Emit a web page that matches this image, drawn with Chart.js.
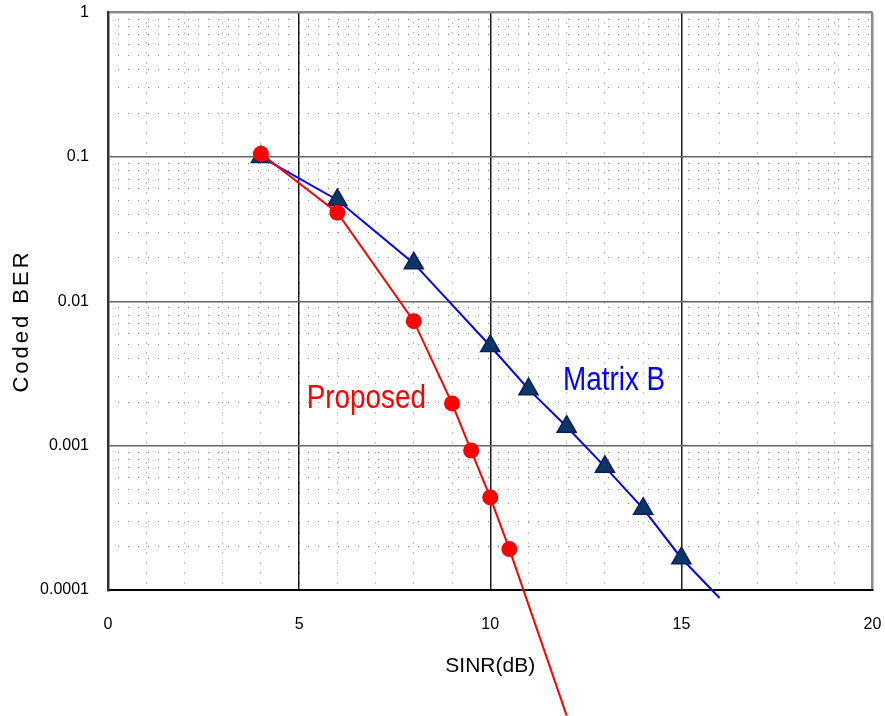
<!DOCTYPE html>
<html>
<head>
<meta charset="utf-8">
<script src="https://cdn.jsdelivr.net/npm/chart.js@4.4.1/dist/chart.umd.min.js"></script>
<style>
  html, body { margin: 0; padding: 0; background: #fff; }
  #wrap { width: 885px; height: 716px; }
</style>
</head>
<body>
<div id="wrap"><canvas id="berChart" width="885" height="716"></canvas></div>
<script>
// values
const xTicks = [0, 5, 10, 15, 20];
const yTicks = [1, 0.1, 0.01, 0.001, 0.0001];
const yTickLabels = ['1', '0.1', '0.01', '0.001', '0.0001'];

const proposedSINR = [4, 6, 8, 9, 9.5, 10, 10.5, 12];
const proposedBER = [0.105, 0.0411, 0.00728, 0.00196, 0.000925, 0.000438, 0.000192, 0.0000135];

const matrixBSINR = [4, 6, 8, 10, 11, 12, 13, 14, 15, 16];
const matrixBBER = [0.1, 0.0503, 0.0183, 0.0049, 0.00246, 0.00135, 0.000713, 0.000366, 0.000166, 0.000088];

const curveLabels = ['Proposed', 'Matrix B'];
const labelSINR = [6.76, 13.24];
const labelBER = [0.00183, 0.00243];

const sans = '"Liberation Sans", Arial, sans-serif';

function minorLogTicks() {
    const out = [];
    for (let e = -4; e < 0; e++) {
        for (let m = 2; m <= 9; m++) out.push({ value: m * Math.pow(10, e) });
    }
    return out;
}

function toPoints(xs, ys) {
    return xs.map((v, i) => ({ x: v, y: ys[i] }));
}

// keep the plot box where the reference has it, labels may hang over
function noOverhang(s) {
    s.paddingLeft = 0;
    s.paddingRight = 0;
    s.paddingTop = 0;
    s.paddingBottom = 0;
}

const yMin = 0.0001;

const textPlugin = {
    id: 'curveText',
    afterDatasetsDraw(chart) {
        const ctx = chart.ctx;
        const x = chart.scales.x;
        const y = chart.scales.y;
        const colors = ['#ff0000', '#0000ff'];
        ctx.save();
        ctx.font = '34px ' + sans;
        ctx.textAlign = 'center';
        ctx.textBaseline = 'alphabetic';
        curveLabels.forEach((t, i) => {
            ctx.save();
            ctx.translate(x.getPixelForValue(labelSINR[i]), y.getPixelForValue(labelBER[i]));
            ctx.scale(0.82, 1);  // the original font is a narrow one
            ctx.fillStyle = colors[i];
            ctx.fillText(t, 0, 0);
            ctx.restore();
        });

        // y axis title
        ctx.translate(22, 321);
        ctx.rotate(-Math.PI / 2);
        ctx.font = '22px ' + sans;
        ctx.letterSpacing = '3px';
        ctx.fillStyle = '#000';
        ctx.textBaseline = 'middle';
        ctx.fillText('Coded BER', 0, 0);
        ctx.restore();
    }
};

new Chart(document.getElementById('berChart'), {
    type: 'scatter',
    data: {
        datasets: [{
            label: 'Proposed',
            data: toPoints(proposedSINR, proposedBER),
            showLine: true,
            borderColor: '#ff0000',
            borderWidth: 2,
            pointStyle: 'circle',
            pointRadius: ctx => (ctx.raw && ctx.raw.y < yMin ? 0 : 8),
            pointBackgroundColor: '#ff0000',
            pointBorderColor: '#ff0000',
            pointBorderWidth: 0,
            clip: false
        }, {
            label: 'Matrix B',
            data: toPoints(matrixBSINR, matrixBBER),
            showLine: true,
            borderColor: '#0000ff',
            borderWidth: 2,
            pointStyle: 'triangle',
            pointRadius: ctx => (ctx.raw && ctx.raw.y < yMin ? 0 : 11),
            pointBackgroundColor: '#0b3665',
            pointBorderColor: '#0a1f5c',
            pointBorderWidth: 1.5,
            clip: false
        }]
    },
    options: {
        responsive: false,
        animation: false,
        layout: { padding: { top: 10, right: 11, left: 0, bottom: 0 } },
        plugins: {
            legend: { display: false },
            tooltip: { enabled: false }
        },
        scales: {
            xMinor: {
                type: 'linear',
                position: 'bottom',
                min: 0,
                max: 20,
                z: -1,
                ticks: { display: false, stepSize: 1 },
                grid: { color: '#8a8a8a', lineWidth: 1, drawTicks: false },
                border: { display: false, dash: [1, 9] },
                afterFit: s => { s.height = 0; noOverhang(s); }
            },
            yMinor: {
                type: 'logarithmic',
                position: 'left',
                min: 0.0001,
                max: 1,
                z: -1,
                afterBuildTicks: s => { s.ticks = minorLogTicks(); },
                ticks: { display: false },
                grid: { color: '#8a8a8a', lineWidth: 1, drawTicks: false },
                border: { display: false, dash: [1, 9] },
                afterFit: s => { s.width = 0; noOverhang(s); }
            },
            x: {
                type: 'linear',
                position: 'bottom',
                min: 0,
                max: 20,
                afterBuildTicks: s => { s.ticks = xTicks.map(v => ({ value: v })); },
                ticks: {
                    padding: 25,
                    color: '#000',
                    font: { family: sans, size: 16 }
                },
                grid: {
                    drawTicks: false,
                    color: c => (c.tick && c.tick.value === 20 ? '#8c8c8c' : '#1a1a1a'),
                    lineWidth: c => (c.tick && c.tick.value === 20 ? 2.5 : 1.5)
                },
                border: { color: '#000', width: 2 },
                title: {
                    display: true,
                    text: 'SINR(dB)',
                    color: '#000',
                    font: { family: sans, size: 21 },
                    padding: { top: 0, bottom: 37 }
                },
                afterFit: s => { s.height = 126; noOverhang(s); }
            },
            y: {
                type: 'logarithmic',
                position: 'left',
                min: 0.0001,
                max: 1,
                afterBuildTicks: s => { s.ticks = yTicks.map(v => ({ value: v })); },
                ticks: {
                    padding: 19,
                    color: '#000',
                    font: { family: sans, size: 16 },
                    callback: (v) => yTickLabels[yTicks.indexOf(v)]
                },
                grid: {
                    drawTicks: false,
                    color: c => (c.tick && c.tick.value === 1 ? '#8c8c8c' : '#666666'),
                    lineWidth: c => (c.tick && c.tick.value === 1 ? 2.5 : 1.5)
                },
                border: { color: '#333', width: 2.5 },
                afterFit: s => { s.width = 108; noOverhang(s); }
            }
        }
    },
    plugins: [textPlugin]
});
</script>
</body>
</html>
